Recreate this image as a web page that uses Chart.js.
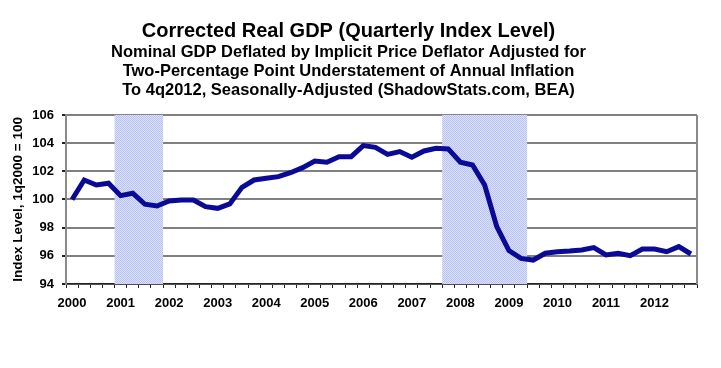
<!DOCTYPE html>
<html lang="en">
<head>
  <meta charset="UTF-8">
  <title>Corrected Real GDP</title>
  <script src="https://cdn.jsdelivr.net/npm/chart.js"></script>
  <style>
    html, body {
      margin: 0;
      padding: 0;
      background: #fff;
    }
    #wrap {
      width: 721px;
      height: 368px;
    }
  </style>
</head>
<body>

<div id="wrap">
  <canvas id="gdpChart" width="721" height="368"></canvas>
</div>

<script>
  // quarters 2000Q1 .. 2012Q4
  const years = ['2000', '2001', '2002', '2003', '2004', '2005', '2006',
                 '2007', '2008', '2009', '2010', '2011', '2012'];
  const quarters = ['Q1', 'Q2', 'Q3', 'Q4'];

  // corrected real GDP index, 1q2000 = 100
  const gdpIndex = [
    100.0, 101.38, 101.03, 101.15,
    100.27, 100.44, 99.66, 99.54,
    99.89, 99.96, 99.96, 99.49,
    99.37, 99.68, 100.86, 101.38,
    101.5, 101.62, 101.9, 102.26,
    102.73, 102.64, 103.04, 103.04,
    103.82, 103.7, 103.2, 103.4,
    103.0, 103.44, 103.63, 103.59,
    102.64, 102.45, 101.03, 98.07,
    96.37, 95.82, 95.7, 96.18,
    96.29, 96.34, 96.41, 96.58,
    96.06, 96.18, 96.01, 96.48,
    96.48, 96.29, 96.65, 96.13
  ];

  // recession periods (shaded), first and last quarter
  const recessionStart = ['2001Q1', '2007Q4'];
  const recessionEnd = ['2001Q4', '2009Q2'];

  const yTicks = [94, 96, 98, 100, 102, 104, 106];

  const labels = [];
  years.forEach(y => quarters.forEach(q => labels.push(y + q)));

  const FONT = '"Liberation Sans", Arial, sans-serif';

  // dotted light-blue fill like the original recession bars
  function makePattern() {
    const c = document.createElement('canvas');
    c.width = 2;
    c.height = 2;
    const g = c.getContext('2d');
    g.fillStyle = '#dce1fa';
    g.fillRect(0, 0, 2, 2);
    g.fillStyle = '#b9c3f3';
    g.fillRect(0, 0, 1, 1);
    g.fillRect(1, 1, 1, 1);
    return g.createPattern(c, 'repeat');
  }

  const recessionPlugin = {
    id: 'recessions',
    beforeDatasetsDraw(chart) {
      const { ctx, chartArea, scales: { x } } = chart;
      const step = x.getPixelForValue(1) - x.getPixelForValue(0);
      ctx.save();
      ctx.fillStyle = makePattern();
      recessionStart.forEach((s, k) => {
        const i0 = labels.indexOf(s);
        const i1 = labels.indexOf(recessionEnd[k]);
        const left = x.getPixelForValue(i0) - step / 2;
        const right = x.getPixelForValue(i1) + step / 2;
        ctx.fillRect(left, chartArea.top, right - left, chartArea.bottom - chartArea.top);
      });
      ctx.restore();
    }
  };

  // gray border on the right side of the plot
  const framePlugin = {
    id: 'frame',
    afterDatasetsDraw(chart) {
      const { ctx, chartArea } = chart;
      ctx.save();
      ctx.strokeStyle = '#8a8a8a';
      ctx.lineWidth = 2;
      ctx.beginPath();
      ctx.moveTo(chartArea.right, chartArea.top);
      ctx.lineTo(chartArea.right, chartArea.bottom);
      ctx.stroke();
      ctx.restore();
    }
  };

  new Chart(document.getElementById('gdpChart'), {
    type: 'line',
    data: {
      labels: labels,
      datasets: [{
        data: gdpIndex,
        borderColor: '#0a0a96',
        borderWidth: 5,
        pointRadius: 0,
        tension: 0,
        fill: false
      }]
    },
    options: {
      responsive: false,
      animation: false,
      layout: { padding: { left: 0, right: 24, top: 0, bottom: 0 } },
      plugins: {
        legend: { display: false },
        tooltip: { enabled: false },
        title: {
          display: true,
          text: 'Corrected Real GDP (Quarterly Index Level)',
          color: '#000',
          font: { family: FONT, size: 20, weight: 'bold', lineHeight: 1.2 },
          padding: { top: 19, bottom: 0 }
        },
        subtitle: {
          display: true,
          text: [
            'Nominal GDP Deflated by Implicit Price Deflator Adjusted for',
            'Two-Percentage Point Understatement of Annual Inflation',
            'To 4q2012, Seasonally-Adjusted (ShadowStats.com, BEA)'
          ],
          color: '#000',
          font: { family: FONT, size: 16.5, weight: 'bold', lineHeight: 1.15 },
          padding: { top: 0, bottom: 15 }
        }
      },
      scales: {
        x: {
          type: 'category',
          offset: true,
          grid: {
            offset: true,
            drawOnChartArea: false,
            tickLength: 4,
            tickColor: '#222'
          },
          border: { color: '#222', width: 1.5 },
          ticks: {
            autoSkip: false,
            maxRotation: 0,
            padding: 8,
            color: '#000',
            font: { family: FONT, size: 13, weight: 'bold' },
            callback: function (val) {
              const lab = this.getLabelForValue(val);
              return lab.endsWith('Q1') ? lab.slice(0, 4) : '';
            }
          },
          afterFit(scale) { scale.height = 84; }
        },
        y: {
          min: 94,
          max: 106,
          afterBuildTicks(scale) {
            scale.ticks = yTicks.map(v => ({ value: v }));
          },
          grid: {
            color: '#808080',
            lineWidth: 2,
            tickLength: 4,
            tickColor: '#222'
          },
          border: { color: '#8a8a8a', width: 2 },
          ticks: {
            padding: 8,
            color: '#000',
            font: { family: FONT, size: 13, weight: 'bold' }
          },
          title: {
            display: true,
            text: 'Index Level, 1q2000 = 100',
            color: '#000',
            font: { family: FONT, size: 13.5, weight: 'bold' },
            padding: { top: 10, bottom: 0 }
          },
          afterFit(scale) { scale.width = 66; }
        }
      }
    },
    plugins: [recessionPlugin, framePlugin]
  });
</script>

</body>
</html>
